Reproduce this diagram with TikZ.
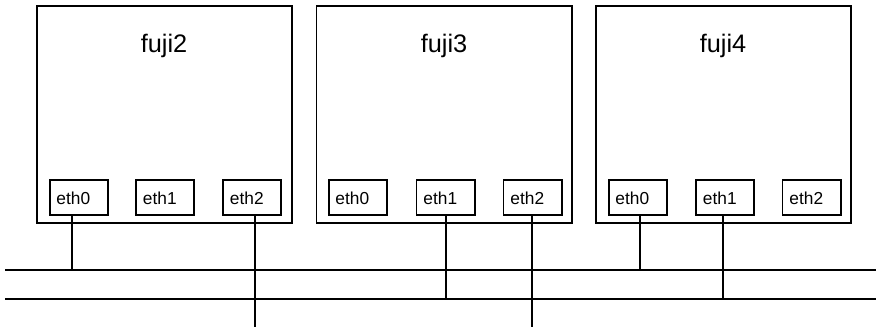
\documentclass[tikz,border=0pt]{standalone}
\usepackage{fontspec}
\setmainfont{Liberation Sans}
\usetikzlibrary{calc}
\begin{document}
\begin{tikzpicture}[x=0.75pt,y=-0.75pt,
  line width=1.45pt,
  host/.style={draw,minimum width=257*0.75pt-1.45pt,minimum height=219*0.75pt-1.45pt,inner sep=0pt},
  ifc/.style={draw,minimum width=60*0.75pt-1.45pt,minimum height=37*0.75pt-1.45pt,inner sep=0pt},
  hostlabel/.style={font=\fontsize{19}{22}\selectfont,anchor=base,inner sep=0pt},
  ifclabel/.style={font=\fontsize{13}{15}\selectfont,anchor=base west,inner sep=0pt}]
\useasboundingbox (0,0) rectangle (876,329);
% hosts
\node[host] (h2) at (164.5,114.5) {};
\node[host] (h3) at (444,114.5) {};
\node[host] (h4) at (723.5,114.5) {};
\node[hostlabel] (t2) at (164,52) {fuji2};
\node[hostlabel] (t3) at (444,52) {fuji3};
\node[hostlabel] (t4) at (723,52) {fuji4};
% interfaces
\foreach \h/\a/\b/\c in {2/79/165/252, 3/358/445.5/532.5, 4/638/725/811.5}{
  \node[ifc] (f\h e0) at (\a,197.5) {};
  \node[ifc] (f\h e1) at (\b,197.5) {};
  \node[ifc] (f\h e2) at (\c,197.5) {};
  \node[ifclabel] at ($(f\h e0.west)+(6.5,6.5)$) {eth0};
  \node[ifclabel] at ($(f\h e1.west)+(7,6.5)$) {eth1};
  \node[ifclabel] at ($(f\h e2.west)+(7,6.5)$) {eth2};
}
% networks
\coordinate (n1w) at (5,270);
\coordinate (n1e) at (876,270);
\coordinate (n2w) at (5,299);
\coordinate (n2e) at (876,299);
\coordinate (bot) at (0,327);
\draw (n1w) -- (n1e);
\draw (n2w) -- (n2e);
% connections
\draw ($(f2e0.south)+(-7,0)$) coordinate (a) -- (a |- n1w);
\draw ($(f2e2.south)+(3,0)$) coordinate (b) -- (b |- bot);
\draw ($(f3e1.south)+(0.5,0)$) coordinate (c) -- (c |- n2w);
\draw ($(f3e2.south)+(-0.5,0)$) coordinate (d) -- (d |- bot);
\draw ($(f4e0.south)+(2,0)$) coordinate (e) -- (e |- n1w);
\draw ($(f4e1.south)+(-2,0)$) coordinate (f) -- (f |- n2w);
\end{tikzpicture}
\end{document}
